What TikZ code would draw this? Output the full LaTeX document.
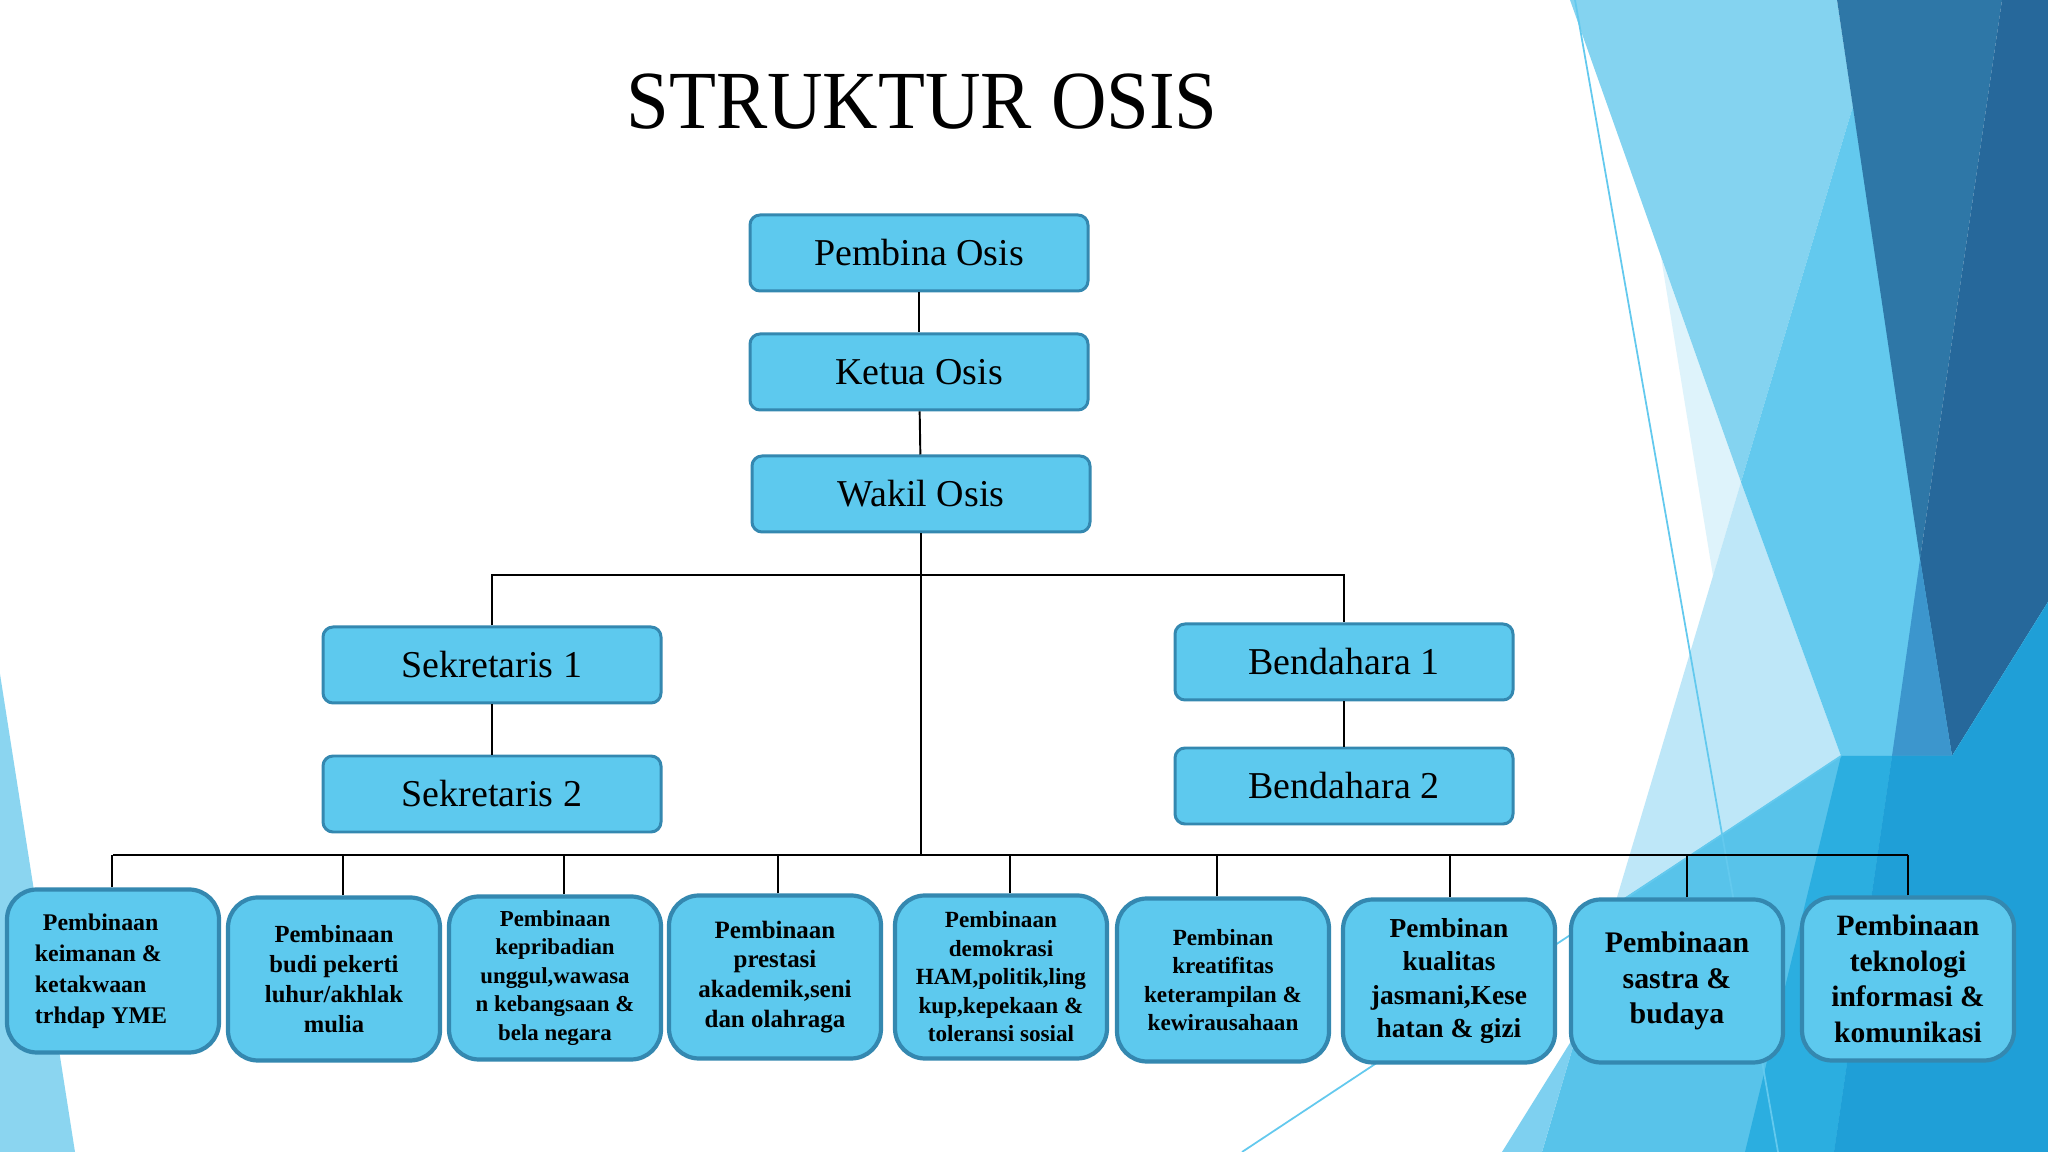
\documentclass[tikz,border=0pt]{standalone}
\usepackage{fontspec}
\setmainfont{Liberation Serif}
\newfontfamily\judulfont[FakeStretch=0.93]{Liberation Serif}
\usepackage{xcolor}
\usepackage{tikz}
\usetikzlibrary{positioning,calc}
\definecolor{kotak}{RGB}{93,201,238}
\definecolor{garis}{RGB}{52,136,176}
\definecolor{bgtepi}{RGB}{139,213,240}
\definecolor{bgpucat}{RGB}{222,243,251}
\definecolor{bgmuda}{RGB}{190,231,248}
\definecolor{bgterang}{RGB}{132,211,240}
\definecolor{bgsedang}{RGB}{99,201,238}
\definecolor{bggelap}{RGB}{46,119,167}
\definecolor{bggelapb}{RGB}{38,104,155}
\definecolor{bgantara}{RGB}{60,150,205}
\definecolor{bgbawah}{RGB}{88,195,234}
\definecolor{bgcerah}{RGB}{43,174,224}
\definecolor{bgdalam}{RGB}{31,159,215}
\definecolor{bgsisi}{RGB}{126,208,240}
\tikzstyle{jabatan} = [rectangle, draw=garis, fill=kotak, line width=0.85pt, rounded corners=1mm, minimum width=33.8mm, minimum height=7.6mm, font=\fontsize{10.8}{13}\selectfont]
\tikzstyle{bidang} = [rectangle, draw=garis, fill=kotak, line width=1.2pt, rounded corners=3mm, minimum width=21.2mm, minimum height=16.3mm, align=center, inner sep=1pt]
\tikzstyle{hubung} = [line width=0.55pt, black]
\newcommand{\ukuran}[2]{\bfseries\fontsize{#1}{#2}\selectfont}

\begin{document}
\begin{tikzpicture}[x=0.1mm, y=-0.1mm]
    \useasboundingbox (0,0) rectangle (2048,1152);
    \fill[white] (0,0) rectangle (2048,1152);
    % background facets
    \fill[bgtepi] (0,674) -- (75,1152) -- (0,1152) -- cycle;
    \fill[bgpucat] (1661,257) -- (1741,482) -- (1713,576) -- cycle;
    \fill[bgmuda] (1741,482) -- (1841,756) -- (1615,904) -- cycle;
    \fill[bgterang] (1570,0) -- (1837,0) -- (1853,106) -- (1741,482) -- cycle;
    \fill[bgsedang] (1853,106) -- (1741,482) -- (1841,756) -- (1952,756) -- cycle;
    \fill[bggelap] (1837,0) -- (2002,0) -- (1920,559) -- cycle;
    \fill[bggelapb] (2002,0) -- (2048,0) -- (2048,602) -- (1952,756) -- (1920,559) -- cycle;
    \fill[bgantara] (1920,559) -- (1952,756) -- (1892,756) -- cycle;
    \fill[bgbawah] (1615,904) -- (1841,756) -- (1952,756) -- (2048,602) -- (2048,1152) -- (1542,1152) -- cycle;
    \fill[bgcerah] (1841,756) -- (1892,756) -- (1834,1152) -- (1745,1152) -- cycle;
    \fill[bgdalam] (1892,756) -- (1952,756) -- (2048,602) -- (2048,1152) -- (1834,1152) -- cycle;
    \fill[bgsisi] (1502,1152) -- (1542,1152) -- (1578,1030) -- cycle;
    \draw[bgsedang, line width=0.5pt] (1575,0) -- (1778,1152);
    \draw[bgsedang, line width=0.5pt] (1242,1152) -- (1841,756);

    \node[font=\judulfont\fontsize{23.5}{28}\selectfont, anchor=base] (judul) at (922,129) {STRUKTUR OSIS};

    \node[jabatan] (pembina) at (919,253) {Pembina Osis};
    \node[jabatan] (ketua) at (919,372) {Ketua Osis};
    \node[jabatan] (wakil) at (921,494) {Wakil Osis};
    \node[jabatan] (sek1) at (492,665) {Sekretaris 1};
    \node[jabatan] (sek2) at (492,794) {Sekretaris 2};
    \node[jabatan] (bend1) at (1344,662) {Bendahara 1};
    \node[jabatan] (bend2) at (1344,786) {Bendahara 2};

    \node[bidang, align=left, font=\ukuran{6.8}{8.8}] (b1) at (113,971) {\hspace*{0.8mm}Pembinaan\\keimanan \&\\ketakwaan\\trhdap YME\hspace*{2.4mm}};
    \node[bidang, font=\ukuran{7}{8.6}] (b2) at (334,979) {Pembinaan\\budi pekerti\\luhur/akhlak\\mulia};
    \node[bidang, font=\ukuran{6.5}{8.1}] (b3) at (555,978) {Pembinaan\\kepribadian\\unggul,wawasa\\n kebangsaan \&\\bela negara};
    \node[bidang, font=\ukuran{7.1}{8.5}] (b4) at (775,977) {Pembinaan\\prestasi\\akademik,seni\\dan olahraga};
    \node[bidang, font=\ukuran{6.6}{8.1}] (b5) at (1001,977) {Pembinaan\\demokrasi\\HAM,politik,ling\\kup,kepekaan \&\\toleransi sosial};
    \node[bidang, font=\ukuran{6.6}{8.1}] (b6) at (1223,980) {Pembinan\\kreatifitas\\keterampilan \&\\kewirausahaan};
    \node[bidang, font=\ukuran{7.8}{9.5}] (b7) at (1449,981) {Pembinan\\kualitas\\jasmani,Kese\\hatan \& gizi};
    \node[bidang, font=\ukuran{8.5}{10}] (b8) at (1677,981) {Pembinaan\\sastra \&\\budaya};
    \node[bidang, font=\ukuran{8.4}{10.1}] (b9) at (1908,979) {Pembinaan\\teknologi\\informasi \&\\komunikasi};

    \coordinate (cabang) at (921,575);
    \coordinate (bus) at (921,855);
    \draw[hubung] (pembina) -- (ketua);
    \draw[hubung] (ketua) -- (wakil);
    \draw[hubung] (wakil) -- (bus);
    \draw[hubung] (sek1) |- (cabang) -| (bend1);
    \draw[hubung] (sek1) -- (sek2);
    \draw[hubung] (bend1) -- (bend2);
    \draw[hubung] (b1.north |- bus) -- (b9.north |- bus);
    \foreach \i/\dx in {1/-1,2/9,3/9,4/3,5/9,6/-6,7/1,8/10,9/0}
        \draw[hubung] ([xshift=\dx*0.1mm]b\i.north) -- ([xshift=\dx*0.1mm]b\i.north |- bus);
\end{tikzpicture}
\end{document}
